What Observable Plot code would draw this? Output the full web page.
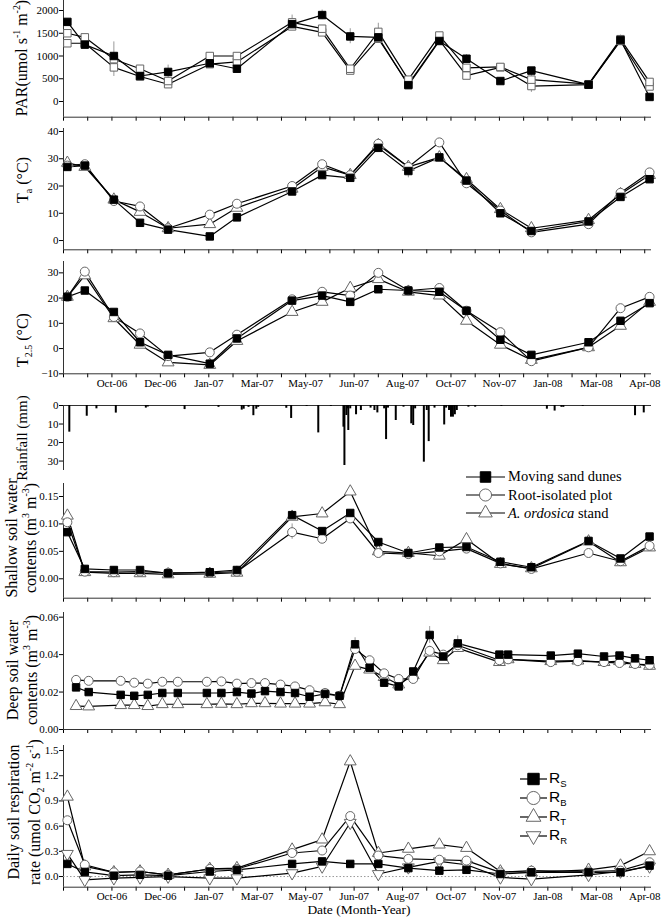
<!DOCTYPE html>
<html>
<head>
<meta charset="utf-8">
<script src="https://cdn.jsdelivr.net/npm/d3@7"></script>
<script src="https://cdn.jsdelivr.net/npm/@observablehq/plot@0.6"></script>
<style>
  html, body { margin: 0; padding: 0; background: #fff; }
  #wrap { position: relative; width: 661px; height: 918px; overflow: hidden; font-family: "Liberation Serif", "Times New Roman", serif; }
  #wrap > svg { display: block; }
  #wrap > svg text { font-family: "Liberation Serif", "Times New Roman", serif; }
  .lg { position: absolute; display: flex; align-items: center; white-space: nowrap; color: #000; }
  .lg svg { display: block; flex: none; }
</style>
</head>
<body>
<div id="wrap"></div>
<script>
// ---------------- DATA ----------------
// x positions: days counted from the unlabeled first axis tick (ticks every 50 days)
const monthLabels = ["Oct-06","Dec-06","Jan-07","Mar-07","May-07","Jun-07","Aug-07","Oct-07","Nov-07","Jan-08","Mar-08","Apr-08"];
const sampleDays = [4, 22, 52, 79, 108, 151, 179, 236, 267, 296, 325, 356, 388, 416, 451, 483, 542, 575, 605];

// PAR (umol s-1 m-2)
const parMoving   = [1750, 1250, 1000, 560, 650, 840, 720, 1700, 1900, 1430, 1410, 360, 1330, 940, 450, 680, 370, 1350, 100];
const parRoot     = [1500, 1410, 930, 720, 450, 1000, 1000, 1740, 1600, 720, 1530, 480, 1450, 740, 760, 480, 380, 1370, 430];
const parOrdosica = [1280, 1280, 750, 550, 380, 820, 870, 1650, 1520, 680, 1380, 380, 1350, 570, 750, 340, 370, 1330, 330];
const parErrDays = [52, 108, 236, 267, 296, 325, 416, 483, 575];
const parErrLo   = [550, 300, 1600, 1800, 1270, 1300, 850, 200, 1300];
const parErrHi   = [1310, 800, 1900, 2010, 1600, 1720, 1030, 600, 1460];

// Air temperature Ta (°C)
const taMoving   = [27, 27.5, 15, 6.5, 4, 1.5, 8.5, 18, 24, 23, 34, 25.5, 30.5, 22, 10, 3.5, 7, 16, 22.5];
const taRoot     = [27.5, 28, 14.5, 12.5, 4.5, 9.5, 13.5, 20, 28, 24, 35.5, 27, 36, 21, 11, 3, 6, 17.5, 25];
const taOrdosica = [28.5, 27, 15, 10.5, 4.5, 6, 12, 19, 27, 24, 35, 27, 30.5, 22.5, 11.5, 4.5, 7.5, 17, 24];
const taErrDays = [356];
const taErrLo   = [23];
const taErrHi   = [28];

// Soil temperature T2.5 (°C)
const tsMoving   = [20.5, 23, 14.5, 2.5, -2.5, -6, 4, 19, 21, 18.5, 23.5, 23, 22.5, 15, 3.5, -2.5, 2.5, 11, 18];
const tsRoot     = [20.5, 30.5, 12.5, 6, -3, -1.5, 5.5, 19.5, 22.5, 21, 30, 23, 24, 15, 6.5, -5, 0.5, 16, 20.5];
const tsOrdosica = [20.5, 29, 12, 1.5, -5.5, -6.5, 3, 14.5, 18.5, 24, 27.5, 22.5, 21, 11, 1.5, -4.5, 0.5, 9, 18.5];

// Rainfall events (mm)
const rainDays = [6,24,34,54,85,87,125,160,184,186,191,196,199,201,230,235,251,263,276,289,290,292,293,294,296,302,307,317,321,324,331,333,335,343,351,359,361,363,372,375,377,383,393,395,398,400,402,404,406,418,425,452,499,507,514,516,536,590,599];
const rainMm   = [14.4,5.8,1.8,4.1,1.4,0.8,2.2,1.0,2.5,2.0,1.0,5.5,2.0,1.0,1.5,7,0.5,14.8,0.5,11.7,32.4,5.4,1.8,13.5,1.8,5,2.7,1.4,2.7,4,1.8,18.4,1.4,8.1,0.9,9.9,10.8,1.8,30.6,2.7,19.5,1.4,10.5,1.4,2.7,6.3,6.3,5,2.7,0.9,0.9,0.5,2,3,1,1,0.5,5.5,4];

// Shallow soil water contents (m3 m-3)
const swMoving   = [0.085, 0.018, 0.016, 0.016, 0.010, 0.012, 0.016, 0.116, 0.087, 0.120, 0.067, 0.047, 0.057, 0.058, 0.031, 0.021, 0.069, 0.037, 0.077];
const swRoot     = [0.103, 0.013, 0.012, 0.013, 0.011, 0.011, 0.013, 0.085, 0.073, 0.110, 0.047, 0.045, 0.050, 0.055, 0.028, 0.018, 0.047, 0.032, 0.060];
const swOrdosica = [0.115, 0.012, 0.010, 0.010, 0.008, 0.009, 0.011, 0.113, 0.119, 0.159, 0.050, 0.047, 0.042, 0.072, 0.027, 0.019, 0.068, 0.030, 0.057];
const swErrDays = [236, 542];
const swErrLo   = [0.072, 0.064];
const swErrHi   = [0.100, 0.075];

// Deep soil water contents (m3 m-3)
const deepDays = [13, 26, 59, 73, 87, 102, 118, 148, 163, 179, 194, 208, 224, 239, 254, 270, 285, 301, 316, 331, 346, 361, 378, 392, 407, 450, 459, 503, 531, 558, 574, 590, 605];
const dwMoving   = [0.0225, 0.020, 0.0185, 0.018, 0.0185, 0.0195, 0.0195, 0.0195, 0.0195, 0.020, 0.0192, 0.0205, 0.020, 0.0195, 0.0175, 0.019, 0.018, 0.0455, 0.033, 0.025, 0.023, 0.031, 0.0505, 0.039, 0.046, 0.040, 0.040, 0.0395, 0.0405, 0.039, 0.0395, 0.038, 0.037];
const dwRoot     = [0.0265, 0.026, 0.026, 0.025, 0.0245, 0.0255, 0.0255, 0.0255, 0.0257, 0.0245, 0.0248, 0.0248, 0.024, 0.023, 0.021, 0.0195, 0.018, 0.043, 0.037, 0.030, 0.027, 0.027, 0.042, 0.040, 0.045, 0.037, 0.0375, 0.036, 0.0365, 0.036, 0.0355, 0.035, 0.0345];
const dwOrdosica = [0.0125, 0.0123, 0.013, 0.013, 0.0125, 0.0135, 0.0135, 0.0135, 0.0137, 0.0135, 0.014, 0.014, 0.0138, 0.0138, 0.0138, 0.0145, 0.0135, 0.034, 0.032, 0.028, 0.024, 0.029, 0.041, 0.037, 0.0435, 0.036, 0.0375, 0.0365, 0.0368, 0.036, 0.0365, 0.035, 0.034];
const dwErrDays = [301, 316, 378, 407, 531];
const dwErrLo   = [0.043, 0.031, 0.046, 0.043, 0.039];
const dwErrHi   = [0.049, 0.038, 0.055, 0.050, 0.042];

// Daily soil respiration rate (umol CO2 m-2 s-1)
const rS = [0.15, 0.055, 0.01, 0.02, 0.01, 0.06, 0.08, 0.15, 0.18, 0.15, 0.15, 0.10, 0.07, 0.08, 0.03, 0.05, 0.05, 0.05, 0.13];
const rB = [0.67, 0.14, 0.05, 0.06, 0.02, 0.09, 0.09, 0.28, 0.31, 0.72, 0.25, 0.21, 0.20, 0.19, 0.05, 0.07, 0.06, 0.07, 0.17];
const rT = [0.95, 0.12, 0.05, 0.06, 0.02, 0.09, 0.10, 0.32, 0.44, 1.37, 0.28, 0.33, 0.38, 0.34, 0.06, 0.05, 0.08, 0.13, 0.30];
const rR = [0.27, -0.04, -0.02, -0.01, 0.00, -0.02, -0.02, 0.04, 0.12, 0.64, 0.03, 0.11, 0.18, 0.14, -0.01, -0.03, 0.02, 0.06, 0.12];

// ---------------- STYLE / HELPERS ----------------
const FONT = '"Liberation Serif", "Times New Roman", serif';
const AXIS = "#333";
const X_DOMAIN = [0, 607];
const xTicks = d3.range(0, 601, 25);
const monthFmt = d => (d > 0 && d % 50 === 0) ? monthLabels[d / 50 - 1] : "";

const ST = {
  black:  {symbol: "square",   fill: "#000", stroke: "#000", r: 4.2},
  osq:    {symbol: "square",   fill: "#fff", stroke: "#666", r: 4.2},
  circle: {symbol: "circle",   fill: "#fff", stroke: "#666", r: 4.5},
  tri:    {symbol: "triangle", fill: "#fff", stroke: "#666", r: 4.4},
  down:   {symbol: "triangle", fill: "#fff", stroke: "#666", r: 4.4, rotate: 180}
};

function rows(days, vals) { return days.map((d, i) => ({day: d, v: vals[i]})); }

function errMarks(days, lo, hi) {
  const data = days.map((d, i) => ({day: d, lo: lo[i], hi: hi[i]}));
  return [Plot.ruleX(data, {x: "day", y1: "lo", y2: "hi", stroke: "#999", strokeWidth: 1})];
}

// series: array of [days, values, style]; draw lines first, then markers
function seriesMarks(series) {
  const lines = series.map(([d, v]) => Plot.line(rows(d, v), {x: "day", y: "v", stroke: "#000", strokeWidth: 1.2}));
  const dots = series.map(([d, v, s]) => Plot.dot(rows(d, v), {
    x: "day", y: "v", symbol: s.symbol, r: s.r, fill: s.fill, stroke: s.stroke, strokeWidth: 1, rotate: s.rotate || 0
  }));
  return [...lines, ...dots];
}

function panel(o) {
  return Plot.plot({
    width: 661, height: o.height,
    marginLeft: 63, marginRight: 10, marginTop: o.mt, marginBottom: o.mb,
    style: {fontFamily: FONT, fontSize: "11px", color: "#000", background: "transparent", overflow: "visible"},
    x: {domain: X_DOMAIN, axis: o.noX ? null : undefined},
    y: {domain: o.yDomain, reverse: !!o.reverse},
    marks: [
      Plot.axisY({ticks: o.yTicks, tickFormat: o.fmt, tickSize: 4, tickPadding: 1, label: null}),
      o.noX ? null : Plot.axisX({ticks: xTicks, tickSize: 4, tickPadding: 1, label: null, tickFormat: o.labels ? monthFmt : () => ""}),
      Plot.ruleX([0], {stroke: AXIS}),
      Plot.ruleY([o.yDomain[0]], {stroke: AXIS}),
      ...(o.marks || [])
    ]
  });
}

// rotated rich-text title: lines = [{x, segs:[[text, kind]]}]
function yTitle(svg, cy, lines, size = 16) {
  for (const ln of lines) {
    const t = d3.select(svg).append("text")
      .attr("transform", `translate(${ln.x},${cy}) rotate(-90)`)
      .attr("y", 0.35 * size)
      .attr("text-anchor", "middle")
      .attr("font-size", size).attr("fill", "#000");
    let shift = 0;
    for (const [s, kind] of ln.segs) {
      const sp = t.append("tspan").text(s);
      const target = kind === "sup" ? -0.42 * size : kind === "sub" ? 0.28 * size : 0;
      if (target !== shift) { sp.attr("dy", target - shift); shift = target; }
      if (kind) sp.attr("font-size", size * 0.62);
    }
  }
}

const wrap = document.getElementById("wrap");

// ---------------- PANELS ----------------
// 1. PAR
const p1 = panel({
  height: 124, mt: 0, mb: 7.3, yDomain: [-345, 2220], yTicks: [0, 500, 1000, 1500, 2000], fmt: d3.format("d"),
  marks: [
    ...errMarks(parErrDays, parErrLo, parErrHi),
    ...seriesMarks([[sampleDays, parOrdosica, ST.osq], [sampleDays, parRoot, ST.osq], [sampleDays, parMoving, ST.black]])
  ]
});
wrap.appendChild(p1);
yTitle(p1, 58, [{x: 21, segs: [["PAR(umol s"], ["-1", "sup"], [" m"], ["-2", "sup"], [")"]]}]);

// 2. Ta
const p2 = panel({
  height: 132, mt: 4, mb: 6.7, yDomain: [-3.4, 41.1], yTicks: [0, 10, 20, 30, 40], fmt: d3.format("d"),
  marks: [
    ...errMarks(taErrDays, taErrLo, taErrHi),
    ...seriesMarks([[sampleDays, taOrdosica, ST.tri], [sampleDays, taRoot, ST.circle], [sampleDays, taMoving, ST.black]])
  ]
});
wrap.appendChild(p2);
yTitle(p2, 180 - 124, [{x: 22, segs: [["T"], ["a", "sub"], [" (°C)"]]}]);

// 3. T2.5
const p3 = panel({
  height: 141, mt: 5, mb: 23.7, yDomain: [-10, 34.5], yTicks: [-10, 0, 10, 20, 30], fmt: d3.format("d"), labels: true,
  marks: seriesMarks([[sampleDays, tsOrdosica, ST.tri], [sampleDays, tsRoot, ST.circle], [sampleDays, tsMoving, ST.black]])
});
wrap.appendChild(p3);
yTitle(p3, 340 - 256, [{x: 22, segs: [["T"], ["2.5", "sub"], [" (°C)"]]}]);

// 4. Rainfall
const rain = rows(rainDays, rainMm);
const p4 = panel({
  height: 75, mt: 8, mb: 2, yDomain: [0, 35.1], reverse: true, yTicks: [0, 10, 20, 30], fmt: d3.format("d"), noX: true,
  marks: [Plot.ruleX(rain, {x: "day", y1: 0, y2: "v", stroke: "#000", strokeWidth: 2})]
});
wrap.appendChild(p4);
yTitle(p4, 438 - 397, [{x: 22, segs: [["Rainfall (mm)"]]}], 15);

// 5. Shallow soil water
const p5 = panel({
  height: 128, mt: 11, mb: 2.3, yDomain: [-0.0354, 0.1737], yTicks: [0, 0.05, 0.10, 0.15], fmt: d3.format(".2f"),
  marks: [
    ...errMarks(swErrDays, swErrLo, swErrHi),
    ...seriesMarks([[sampleDays, swOrdosica, ST.tri], [sampleDays, swRoot, ST.circle], [sampleDays, swMoving, ST.black]])
  ]
});
wrap.appendChild(p5);
yTitle(p5, 538 - 472, [
  {x: 11, segs: [["Shallow soil water"]]},
  {x: 30, segs: [["contents (m"], ["3", "sup"], [" m"], ["-3", "sup"], [")"]]}
]);

// 6. Deep soil water
const p6 = panel({
  height: 137, mt: 12, mb: 8, yDomain: [0, 0.0625], yTicks: [0, 0.02, 0.04, 0.06], fmt: d3.format(".2f"),
  marks: [
    ...errMarks(dwErrDays, dwErrLo, dwErrHi),
    ...seriesMarks([[deepDays, dwOrdosica, ST.tri], [deepDays, dwRoot, ST.circle], [deepDays, dwMoving, ST.black]])
  ]
});
wrap.appendChild(p6);
yTitle(p6, 670 - 600, [
  {x: 12, segs: [["Deep soil water"]]},
  {x: 31, segs: [["contents (m"], ["3", "sup"], [" m"], ["-3", "sup"], [")"]]}
]);

// 7. Respiration
const p7 = panel({
  height: 181, mt: 8, mb: 31.3, yDomain: [-0.127, 1.56], yTicks: [0, 0.3, 0.6, 0.9, 1.2, 1.5], fmt: d3.format(".1f"), labels: true,
  marks: [
    Plot.ruleY([0], {stroke: "#999", strokeDasharray: "1.5,2"}),
    ...seriesMarks([[sampleDays, rR, ST.down], [sampleDays, rT, ST.tri], [sampleDays, rB, ST.circle], [sampleDays, rS, ST.black]])
  ]
});
wrap.appendChild(p7);
yTitle(p7, 812 - 737, [
  {x: 13, segs: [["Daily soil respiration"]]},
  {x: 34, segs: [["rate (umol CO"], ["2", "sub"], [" m"], ["-2", "sup"], [" s"], ["-1", "sup"], [")"]]}
]);
d3.select(p7).append("text").attr("x", 359).attr("y", 177)
  .attr("text-anchor", "middle").attr("font-size", 13.5).attr("fill", "#000")
  .text("Date (Month-Year)");

// ---------------- LEGENDS (HTML) ----------------
function legendSymbol(style, size, lineW) {
  const h = 18;
  const sym = {square: d3.symbolSquare, circle: d3.symbolCircle, triangle: d3.symbolTriangle}[style.symbol];
  const path = d3.symbol(sym, size)();
  const rot = style.rotate ? ` rotate(${style.rotate})` : "";
  return `<svg width="${lineW}" height="${h}"><line x1="0" x2="${lineW}" y1="${h/2}" y2="${h/2}" stroke="#000" stroke-width="1.2"/>` +
    `<path d="${path}" transform="translate(${lineW/2},${h/2})${rot}" fill="${style.fill}" stroke="${style.stroke}" stroke-width="1"/></svg>`;
}
function addLegend(items, left, top, step, lineW, gap, font, fontSize) {
  items.forEach((it, i) => {
    const div = document.createElement("div");
    div.className = "lg";
    div.style.left = left + "px";
    div.style.top = (top + i * step - 9) + "px";
    div.style.fontFamily = font;
    div.style.fontSize = fontSize + "px";
    div.innerHTML = legendSymbol(it.style, it.size, lineW) + `<span style="margin-left:${gap}px">${it.label}</span>`;
    wrap.appendChild(div);
  });
}
addLegend([
  {style: ST.black, size: 110, label: "Moving sand dunes"},
  {style: ST.circle, size: 115, label: "Root-isolated plot"},
  {style: ST.tri, size: 80, label: "<i>A. ordosica</i> stand"}
], 466, 476.7, 18.3, 39, 3, FONT, 14.5);

addLegend([
  {style: ST.black, size: 130, label: "R<sub style='font-size:9.5px'>S</sub>"},
  {style: ST.circle, size: 135, label: "R<sub style='font-size:9.5px'>B</sub>"},
  {style: ST.tri, size: 95, label: "R<sub style='font-size:9.5px'>T</sub>"},
  {style: ST.down, size: 95, label: "R<sub style='font-size:9.5px'>R</sub>"}
], 520, 778, 19, 27, 2, "Liberation Sans, Arial, sans-serif", 15.5);
</script>
</body>
</html>
